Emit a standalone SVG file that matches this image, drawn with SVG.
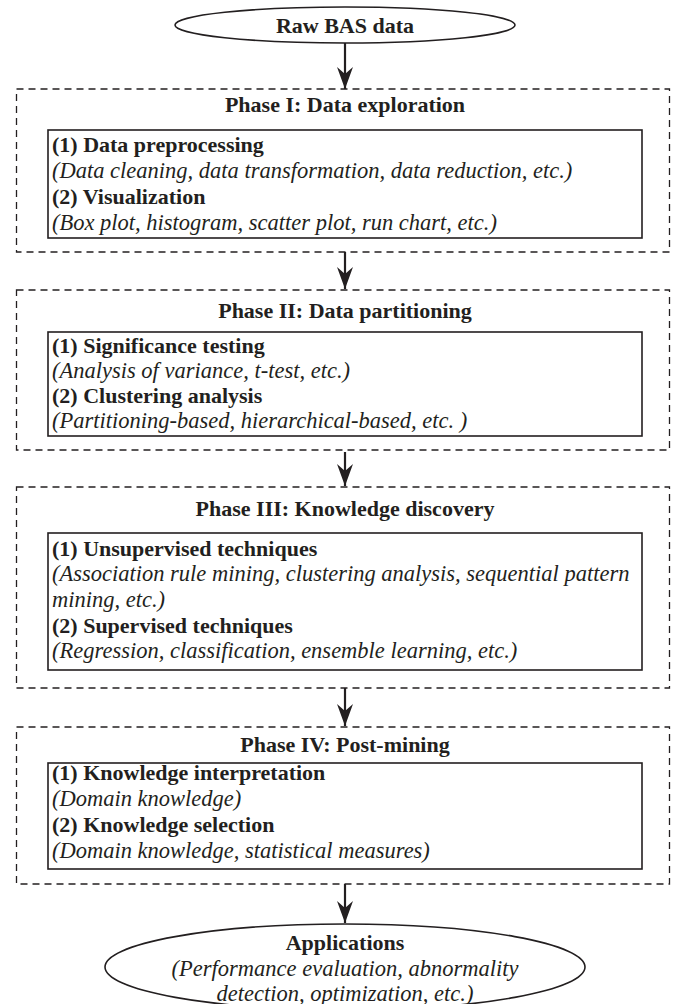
<svg xmlns="http://www.w3.org/2000/svg" width="673" height="1004" viewBox="0 0 673 1004">
<defs>
<style>
.b{font-family:"Liberation Serif","Times New Roman",serif;font-weight:bold;font-size:22px;fill:#231f20}
.i{font-family:"Liberation Serif","Times New Roman",serif;font-style:italic;font-size:22.5px;fill:#231f20}
.c{text-anchor:middle}
.dash{fill:none;stroke:#231f20;stroke-width:1.3;stroke-dasharray:7 5}
.box{fill:none;stroke:#231f20;stroke-width:1.6}
.ell{fill:#fff;stroke:#231f20;stroke-width:1.6}
.con{stroke:#231f20;stroke-width:2.2;fill:none}
</style>
<marker id="ah" markerUnits="userSpaceOnUse" markerWidth="26" markerHeight="20" refX="24" refY="10" orient="auto" viewBox="0 0 26 20">
<path d="M24,10 L2,2 L9,10 L2,18 Z" fill="#231f20"/>
</marker>
</defs>
<rect width="673" height="1004" fill="#fff"/>

<g id="connectors">
<line class="con" x1="345" y1="43" x2="345" y2="89" marker-end="url(#ah)"/>
<line class="con" x1="345" y1="252" x2="345" y2="289" marker-end="url(#ah)"/>
<line class="con" x1="345" y1="452" x2="345" y2="486" marker-end="url(#ah)"/>
<line class="con" x1="345" y1="688" x2="345" y2="726" marker-end="url(#ah)"/>
<line class="con" x1="345" y1="884" x2="345" y2="923" marker-end="url(#ah)"/>
</g>

<g id="raw">
<ellipse class="ell" cx="345" cy="25" rx="170" ry="18"/>
<text class="b c" x="345" y="33">Raw BAS data</text>
</g>

<g id="phase1">
<rect class="dash" x="16.5" y="89" width="653" height="163"/>
<text class="b c" x="345" y="112">Phase I: Data exploration</text>
<rect class="box" x="48" y="130" width="594" height="108"/>
<text class="b" x="52" y="152">(1) Data preprocessing</text>
<text class="i" x="52" y="178">(Data cleaning, data transformation, data reduction, etc.)</text>
<text class="b" x="52" y="204">(2) Visualization</text>
<text class="i" x="52" y="230">(Box plot, histogram, scatter plot, run chart, etc.)</text>
</g>

<g id="phase2">
<rect class="dash" x="16.5" y="290" width="653" height="160"/>
<text class="b c" x="345" y="318">Phase II: Data partitioning</text>
<rect class="box" x="48" y="332" width="594" height="104"/>
<text class="b" x="52" y="353">(1) Significance testing</text>
<text class="i" x="52" y="378">(Analysis of variance, t-test, etc.)</text>
<text class="b" x="52" y="403">(2) Clustering analysis</text>
<text class="i" x="52" y="428">(Partitioning-based, hierarchical-based, etc. )</text>
</g>

<g id="phase3">
<rect class="dash" x="16.5" y="487" width="653" height="201"/>
<text class="b c" x="345" y="516">Phase III: Knowledge discovery</text>
<rect class="box" x="48" y="533" width="594" height="137"/>
<text class="b" x="52" y="556">(1) Unsupervised techniques</text>
<text class="i" x="52" y="581">(Association rule mining, clustering analysis, sequential pattern</text>
<text class="i" x="52" y="607">mining, etc.)</text>
<text class="b" x="52" y="633">(2) Supervised techniques</text>
<text class="i" x="52" y="658">(Regression, classification, ensemble learning, etc.)</text>
</g>

<g id="phase4">
<rect class="dash" x="16.5" y="727" width="653" height="157"/>
<text class="b c" x="345" y="752">Phase IV: Post-mining</text>
<rect class="box" x="48" y="763" width="594" height="106"/>
<text class="b" x="52" y="780">(1) Knowledge interpretation</text>
<text class="i" x="52" y="806">(Domain knowledge)</text>
<text class="b" x="52" y="832">(2) Knowledge selection</text>
<text class="i" x="52" y="858">(Domain knowledge, statistical measures)</text>
</g>

<g id="applications">
<ellipse class="ell" cx="345" cy="967" rx="240" ry="43"/>
<text class="b c" x="345" y="950">Applications</text>
<text class="i c" x="345" y="976">(Performance evaluation, abnormality</text>
<text class="i c" x="345" y="1001">detection, optimization, etc.)</text>
</g>
</svg>
